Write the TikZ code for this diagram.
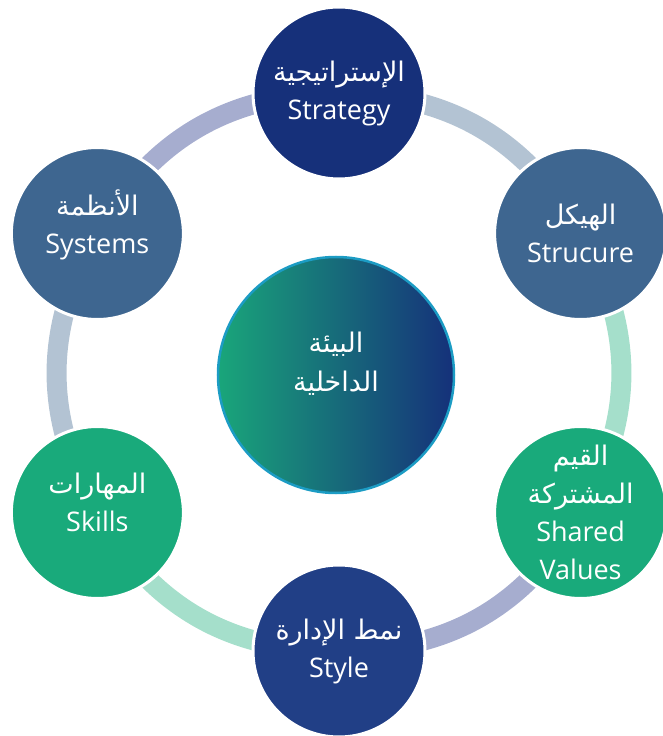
\documentclass[tikz,border=0pt]{standalone}
\usepackage{fontspec}
\setmainfont{Open Sans}
\newfontfamily\arabicfont[Script=Arabic]{DejaVu Sans}
\TeXXeTstate=1
\usetikzlibrary{backgrounds}

\definecolor{navyball}{HTML}{16307A}
\definecolor{styleball}{HTML}{213F86}
\definecolor{steelball}{HTML}{3E6690}
\definecolor{greenball}{HTML}{19AA7B}
\definecolor{ringgray}{HTML}{B3C3D3}
\definecolor{ringmint}{HTML}{A5DFCB}
\definecolor{ringlav}{HTML}{A6ADCF}
\definecolor{coreleft}{HTML}{19A67A}
\definecolor{coreright}{HTML}{15307A}
\definecolor{coreline}{HTML}{1C9CC4}

\tikzset{
  ball/.style={circle, draw=white, line width=3pt, minimum size=172pt, inner sep=0pt,
    text=white, align=center, font=\fontsize{27}{38}\selectfont},
  ring/.style={line width=20pt, bend left=30}
}
\newcommand{\ar}[1]{{\arabicfont\beginR #1\endR}}

\begin{document}
\begin{tikzpicture}[x=1pt, y=1pt]
\useasboundingbox (-339,-363) rectangle (324,373);
% the seven elements
\node[ball, fill=navyball]  (strategy) at (90:280)   {\ar{الإستراتيجية}\\Strategy};
\node[ball, fill=steelball] (structure) at (30:279)  {\ar{الهيكل}\\Strucure};
\node[ball, fill=greenball] (values) at (-30:279)    {\ar{القيم}\\\ar{المشتركة}\\Shared\\Values};
\node[ball, fill=styleball] (style) at (-90:278)     {\ar{نمط الإدارة}\\Style};
\node[ball, fill=greenball, text depth=20pt] (skills) at (-150:279) {\ar{المهارات}\\Skills};
\node[ball, fill=steelball, text depth=24pt] (systems) at (150:279) {\ar{الأنظمة}\\Systems};
\node[circle, minimum size=236pt, inner sep=0pt, left color=coreleft, right color=coreright,
  draw=coreline, line width=2.5pt, text=white, align=center, text depth=26pt,
  font=\fontsize{27}{39}\selectfont]
  (core) at (-3,-2) {\ar{البيئة}\\\ar{الداخلية}};
% ring behind the circles
\begin{pgfonlayer}{background}
\draw[ring, ringgray] (strategy.center) to (structure.center);
\draw[ring, ringmint] (structure.center) to (values.center);
\draw[ring, ringlav]  (values.center) to (style.center);
\draw[ring, ringmint] (style.center) to (skills.center);
\draw[ring, ringgray] (skills.center) to (systems.center);
\draw[ring, ringlav]  (systems.center) to (strategy.center);
\end{pgfonlayer}
\end{tikzpicture}
\end{document}
